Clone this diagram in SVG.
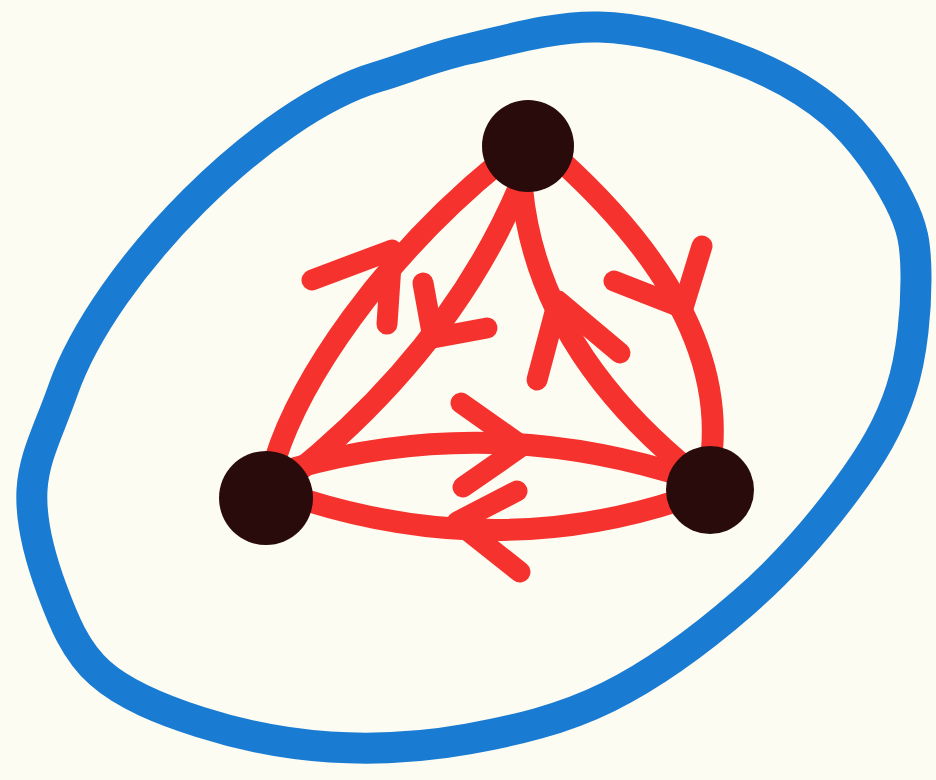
<svg xmlns="http://www.w3.org/2000/svg" width="936" height="780" viewBox="0 0 936 780">
<style>
.edge{fill:none;stroke:#f6322f;stroke-width:22;stroke-linecap:round;stroke-linejoin:round}
.head{fill:none;stroke:#f6322f;stroke-width:21;stroke-linecap:round;stroke-linejoin:round}
.node{fill:#2a0b0b}
</style>
<rect width="936" height="780" fill="#fdfcf2"/>
<path id="boundary" fill="none" stroke="#1a7bd2" stroke-width="31" stroke-linejoin="round" d="M599,27 C643.2,28.3 694,42.7 733,57 C772,71.3 805.3,89.2 833,113 C860.7,136.8 885.2,173 899,200 C912.8,227 915.7,243.3 916,275 C916.3,306.7 912.7,354.2 901,390 C889.3,425.8 872.3,454.5 846,490 C819.7,525.5 782.7,568.5 743,603 C703.3,637.5 653.8,674.3 608,697 C562.2,719.7 514.3,730.7 468,739 C421.7,747.3 374.7,749.8 330,747 C285.3,744.2 238.3,734.3 200,722 C161.7,709.7 124.7,695 100,673 C75.3,651 63.3,620.5 52,590 C40.7,559.5 30.2,523.3 32,490 C33.8,456.7 49,430 63,390 C105,270 265,110 377,77 C407,68.2 431,57.3 468,49 C505,40.7 554.8,25.7 599,27 Z"/>
<g id="connectors">
  <path class="edge" d="M275,460 C300,380 380,260 500,162"/>
  <polyline class="head" points="312,280 392,250 387,324"/>
  <path class="edge" d="M520,185 Q450,350 290,478"/>
  <polyline class="head" points="423,283 433,338 487,328"/>
  <path class="edge" d="M560,160 Q724,309 712,450"/>
  <polyline class="head" points="614,281 683,308 702,246"/>
  <path class="edge" d="M522,188 Q537,348 695,475"/>
  <polyline class="head" points="537,380 558,301 620,353"/>
  <path class="edge" d="M295,468 Q491,413 690,478"/>
  <polyline class="head" points="461,403 522,446 463,487"/>
  <path class="edge" d="M305,500 Q497,560 680,500"/>
  <polyline class="head" points="517,491 457,522 520,572"/>
</g>
<g id="node-top"><circle class="node" cx="528" cy="146" r="46"/></g>
<g id="node-left"><circle class="node" cx="266" cy="498" r="47"/></g>
<g id="node-right"><circle class="node" cx="710" cy="490" r="44"/></g>
</svg>
